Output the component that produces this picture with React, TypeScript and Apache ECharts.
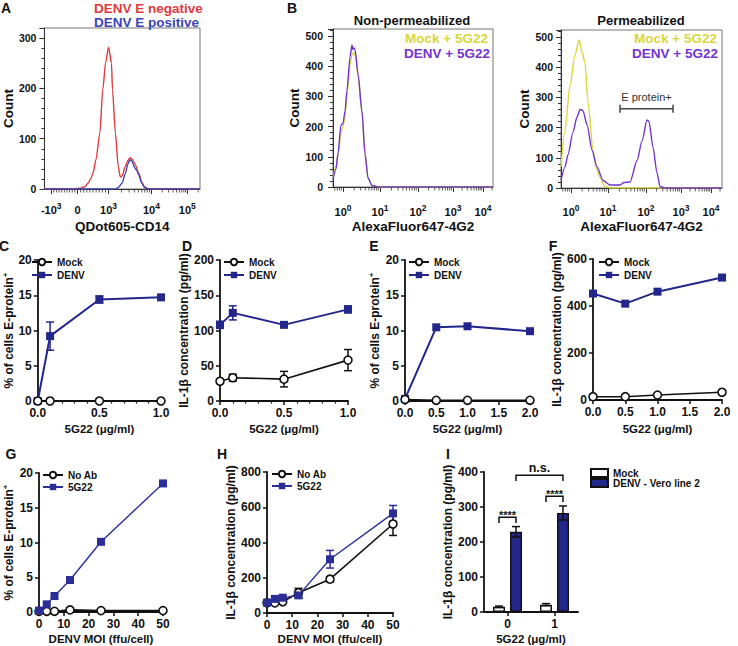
import React, { useEffect, useRef } from 'react';
import * as echarts from 'echarts';

const FONT = "'Liberation Sans', Arial, Helvetica, sans-serif";
const INK = '#111';
const NAVY = '#23268a';
const NAVY2 = '#2b2e96';
const RED = '#e0393e';
const BLUE = '#3a44b6';
const YELLOW = '#d8d73c';
const PURPLE = '#7433d0';

// ---------- Panel A : QDot605-CD14 histogram (display channel 0..160 vs count)
const aAxisLabels = ['-10^3', '0', '10^3', '10^4', '10^5'];
const aAxisPos = [7, 34, 66, 110, 147];
const aNegative = [[0, 0], [30, 0], [38, 2], [42, 5], [45, 12], [48, 22], [50, 32], [53, 58], [57, 111], [60, 197], [63, 252], [66, 282], [69, 250], [70, 197], [73, 111], [76, 44], [78, 24], [80, 26], [83, 44], [86, 57], [88, 62], [90, 60], [93, 50], [97, 32], [100, 14], [103, 4], [107, 0], [160, 0]];
const aPositive = [[0, 0], [73, 0], [76, 3], [80, 12], [83, 30], [86, 50], [88, 58], [90, 55], [93, 42], [95, 37], [97, 28], [100, 12], [103, 3], [107, 0], [160, 0]];

// ---------- Panel B : AlexaFluor647-4G2 histograms
const bAxisLabels = ['10^0', '10^1', '10^2', '10^3', '10^4'];
const bAxisPos = [10, 47, 85, 120, 150];
const bNonPermMock = [[0, 30], [3, 70], [5, 105], [8, 180], [10, 200], [12, 235], [14, 305], [17, 405], [19, 438], [21, 445], [23, 428], [25, 370], [29, 245], [32, 110], [35, 30], [39, 5], [45, 0], [160, 0]];
const bNonPermDenv = [[0, 25], [3, 60], [5, 110], [8, 205], [10, 210], [12, 250], [14, 320], [17, 430], [19, 470], [20, 455], [21, 460], [22, 455], [25, 375], [29, 250], [32, 110], [35, 30], [39, 5], [45, 0], [160, 0]];
const bPermMock = [[0, 70], [4, 190], [9, 340], [14, 440], [18, 490], [21, 450], [24, 415], [27, 285], [32, 125], [36, 60], [39, 35], [44, 5], [50, 0], [161, 0]];
const bPermDenv = [[0, 25], [4, 70], [7, 110], [12, 185], [16, 235], [19, 260], [21, 258], [22, 255], [26, 210], [31, 125], [36, 70], [42, 25], [49, 10], [59, 10], [63, 18], [69, 20], [76, 90], [81, 155], [86, 225], [88, 220], [92, 135], [96, 50], [99, 5], [104, 0], [161, 0]];
const bGate = [[59, 112, 262, 302]]; // x1, x2, y, label y
const bGateLabel = 'E protein+';

// ---------- Panel C
const cX = [0, 0.1, 0.5, 1.0];
const cMock = [0, 0, 0, 0];
const cDenv = [0, 9.2, 14.4, 14.7];
const cDenvErr = [0, 2.0, 0.5, 0.3];

// ---------- Panel D
const dX = [0, 0.1, 0.5, 1.0];
const dMock = [28, 33, 31, 58];
const dMockErr = [2, 5, 11, 15];
const dDenv = [108, 125, 108, 130];
const dDenvErr = [5, 10, 3, 5];

// ---------- Panel E
const eX = [0, 0.5, 1.0, 2.0];
const eMock = [0.2, 0.1, 0.1, 0.1];
const eDenv = [0.3, 10.45, 10.6, 9.9];

// ---------- Panel F
const fX = [0, 0.5, 1.0, 2.0];
const fMock = [14, 14, 21, 33];
const fDenv = [453, 410, 461, 521];

// ---------- Panel G
const gX = [0, 3.125, 6.25, 12.5, 25, 50];
const gNoAb = [0.1, 0.1, 0.1, 0.3, 0.2, 0.2];
const g5G22 = [0.2, 1.1, 2.3, 4.6, 10.1, 18.5];

// ---------- Panel H
const hX = [0, 3.125, 6.25, 12.5, 25, 50];
const hNoAb = [58, 57, 64, 115, 192, 505];
const hNoAbErr = [3, 4, 4, 25, 15, 65];
const h5G22 = [58, 80, 87, 100, 305, 565];
const h5G22Err = [3, 5, 5, 15, 50, 45];

// ---------- Panel I
const iCats = ['0', '1'];
const iMock = [15, 21];
const iMockErr = [2, 3];
const iDenv = [229, 283];
const iDenvErr = [15, 20];
const iBrackets = [[0, -1, 0, 1, 271, 254], [1, -1, 1, 1, 331, 314], [0, 1, 1, 1, 391, 374]];
const iBracketText = ['****', '****', 'n.s.'];

const RICH_SUP = {
  b: { fontFamily: FONT, fontWeight: 'bold', fontSize: 11, fill: INK, color: INK, lineHeight: 17 },
  s: { fontFamily: FONT, fontWeight: 'bold', fontSize: 8.5, fill: INK, color: INK, lineHeight: 8, verticalAlign: 'top' },
};

function supLabel(t: string) {
  const m = t.split('^');
  return m.length > 1 ? `{b|${m[0]}}{s|${m[1]}}` : `{b|${t}}`;
}

function logMinors(dec: number[], lo: number, hi: number) {
  const out: number[] = [];
  const all = [dec[0] - (dec[1] - dec[0]), ...dec, dec[dec.length - 1] + (dec[dec.length - 1] - dec[dec.length - 2])];
  for (let i = 0; i < all.length - 1; i++) {
    const w = all[i + 1] - all[i];
    for (let k = 2; k <= 9; k++) {
      const p = all[i] + Math.log10(k) * w;
      if (p > lo && p < hi) out.push(p);
    }
  }
  return out;
}

function linMinors(a: number, b: number, n: number) {
  const out: number[] = [];
  for (let k = 1; k < n; k++) out.push(a + ((b - a) * k) / n);
  return out;
}

const nameStyle = (size: number) => ({
  fontFamily: FONT, fontWeight: 'bold', fontSize: size, color: INK,
  rich: { s: { fontFamily: FONT, fontWeight: 'bold', fontSize: 8, color: INK, padding: [0, 0, 7, 0] } },
});
const labelStyle = (size: number) => ({ fontFamily: FONT, fontWeight: 'bold', fontSize: size, color: INK });

function flowX(gi: number, max: number, pos: number[], name: string, gap: number) {
  return {
    gridIndex: gi, type: 'value', min: 0, max, position: 'bottom',
    axisLine: { show: true, onZero: false, lineStyle: { color: '#333', width: 1 } },
    axisTick: { show: true, customValues: pos, length: 5, lineStyle: { color: '#333' } },
    axisLabel: { show: false },
    splitLine: { show: false },
    name, nameLocation: 'middle', nameGap: gap, nameTextStyle: nameStyle(13.5),
  };
}

function flowY(gi: number, max: number, margin: number, gap: number) {
  return {
    gridIndex: gi, type: 'value', min: 0, max, interval: 100,
    axisLine: { show: true, lineStyle: { color: '#333', width: 1 } },
    axisTick: { show: true, length: 5, lineStyle: { color: '#333' } },
    minorTick: { show: true, splitNumber: 5, length: 3, lineStyle: { color: '#333' } },
    axisLabel: { showMaxLabel: false, margin, ...labelStyle(10.5) },
    splitLine: { show: false }, minorSplitLine: { show: false },
    name: 'Count', nameLocation: 'middle', nameGap: gap, nameTextStyle: nameStyle(13.5),
  };
}

function lineX(gi: number, max: number, interval: number, minor: boolean, digits: number, name: string, gap: number) {
  return {
    gridIndex: gi, type: 'value', min: 0, max, interval,
    axisLine: { show: true, onZero: false, lineStyle: { color: INK, width: 1.8 } },
    axisTick: { show: true, length: 4, lineStyle: { color: INK, width: 1.5 } },
    minorTick: { show: minor, splitNumber: 5, length: 2.5, lineStyle: { color: INK, width: 1.2 } },
    axisLabel: { margin: 6, formatter: (v: number) => v.toFixed(digits), ...labelStyle(12) },
    splitLine: { show: false }, minorSplitLine: { show: false },
    name, nameLocation: 'middle', nameGap: gap, nameTextStyle: nameStyle(11.5),
  };
}

function lineY(gi: number, max: number, interval: number, name: string, gap: number) {
  return {
    gridIndex: gi, type: 'value', min: 0, max, interval,
    axisLine: { show: true, lineStyle: { color: INK, width: 1.8 } },
    axisTick: { show: true, length: 4, lineStyle: { color: INK, width: 1.5 } },
    axisLabel: { margin: 6, ...labelStyle(12) },
    splitLine: { show: false },
    name, nameLocation: 'middle', nameGap: gap, nameTextStyle: nameStyle(12),
  };
}

function flowLine(gi: number, name: string, data: number[][], color: string) {
  return {
    type: 'line', name, xAxisIndex: gi, yAxisIndex: gi, data, showSymbol: false, symbol: 'none',
    smooth: 0.25, smoothMonotone: 'x', lineStyle: { color, width: 1.4 }, itemStyle: { color }, silent: true, z: 3,
  };
}

function minorTicks(gi: number, xs: number[]) {
  return {
    type: 'scatter', xAxisIndex: gi, yAxisIndex: gi, data: xs.map((x) => [x, 0]), symbol: 'rect',
    symbolSize: [1, 3], symbolOffset: [0, 2], itemStyle: { color: '#333' }, silent: true, clip: false, z: 4,
  };
}

// Decade labels (with superscript exponents) of the flow axes, placed through the axis scale
function decadeLabels(gi: number, pos: number[], labels: string[], dist: number) {
  const items = pos.map((x, i) => [x, 0, i]).filter((d) => labels[d[2]].indexOf('^') >= 0);
  return {
    type: 'custom', xAxisIndex: gi, yAxisIndex: gi, silent: true, clip: false, z: 6,
    data: items, encode: { x: 0, y: 1 },
    renderItem: (_p: any, api: any) => {
      const c = api.coord([api.value(0), 0]);
      const t = labels[api.value(2)];
      return {
        type: 'text', x: c[0], y: c[1] + dist, z2: 10,
        style: {
          text: supLabel(t), rich: RICH_SUP, fill: INK,
          fontFamily: FONT, fontWeight: 'bold', fontSize: 11,
          align: 'center', verticalAlign: 'top', textAlign: 'center', textVerticalAlign: 'top',
        },
      };
    },
  };
}

function mockLine(gi: number, name: string, xs: number[], ys: number[]) {
  return {
    type: 'line', name, xAxisIndex: gi, yAxisIndex: gi, data: xs.map((x, i) => [x, ys[i]]),
    symbol: 'circle', symbolSize: 8, showSymbol: true, clip: false,
    lineStyle: { color: INK, width: 1.6 }, itemStyle: { color: '#fff', borderColor: INK, borderWidth: 1.6 }, z: 4,
  };
}

function denvLine(gi: number, name: string, xs: number[], ys: number[], color: string, width: number) {
  return {
    type: 'line', name, xAxisIndex: gi, yAxisIndex: gi, data: xs.map((x, i) => [x, ys[i]]),
    symbol: 'rect', symbolSize: 8, showSymbol: true, clip: false,
    lineStyle: { color, width }, itemStyle: { color }, z: 4,
  };
}

function errBars(gi: number, xs: number[], ys: number[], es: number[], color: string) {
  return {
    type: 'custom', xAxisIndex: gi, yAxisIndex: gi, silent: true, clip: false, z: 3,
    data: xs.map((x, i) => [x, ys[i], es[i]]).filter((d) => d[2] > 0),
    encode: { x: 0, y: 1 },
    renderItem: (_p: any, api: any) => {
      const x = api.value(0), y = api.value(1), e = api.value(2);
      const t = api.coord([x, y + e]);
      const b = api.coord([x, y - e]);
      const st = { stroke: color, lineWidth: 1.5, fill: null };
      return {
        type: 'group', children: [
          { type: 'line', shape: { x1: t[0], y1: t[1], x2: b[0], y2: b[1] }, style: st },
          { type: 'line', shape: { x1: t[0] - 4, y1: t[1], x2: t[0] + 4, y2: t[1] }, style: st },
          { type: 'line', shape: { x1: b[0] - 4, y1: b[1], x2: b[0] + 4, y2: b[1] }, style: st },
        ],
      };
    },
  };
}

function panelLegend(names: string[], left: number, top: number, gap: number, extra: any = {}) {
  return {
    show: true, orient: 'vertical', left, top, itemWidth: 20, itemHeight: 8, itemGap: gap, padding: 0,
    data: names, selectedMode: false,
    textStyle: { fontFamily: FONT, fontWeight: 'bold', fontSize: 10, color: INK },
    ...extra,
  };
}

function gText(id: string, text: string, x: number, y: number, size: number, color: string, align = 'center', weight = 'bold') {
  return {
    id, type: 'text', x, y, silent: true, z: 100,
    style: {
      text, fill: color, fontFamily: FONT, fontWeight: weight, fontSize: size,
      align, verticalAlign: 'middle', textAlign: align, textVerticalAlign: 'middle',
    },
  };
}

function buildOption() {
  const grids = [
    { left: 40, top: 28, width: 160, height: 161, show: true, borderColor: '#777', borderWidth: 1 },
    { left: 333, top: 29, width: 160, height: 158, show: true, borderColor: '#777', borderWidth: 1 },
    { left: 561, top: 30, width: 161, height: 158, show: true, borderColor: '#777', borderWidth: 1 },
    { left: 33, top: 260, width: 128, height: 141 },
    { left: 220, top: 260, width: 128, height: 141 },
    { left: 405, top: 260, width: 125, height: 141 },
    { left: 593, top: 259, width: 129, height: 141 },
    { left: 38, top: 473, width: 125, height: 139 },
    { left: 267, top: 472, width: 126, height: 141 },
    { left: 484, top: 472, width: 94, height: 140 },
  ];

  const ug = '5G22 (μg/ml)';
  const moi = 'DENV MOI (ffu/cell)';
  const pctName = '% of cells E-protein{s|+}';
  const ilName = 'IL-1β concentration (pg/ml)';

  const xAxes: any[] = [
    flowX(0, 160, aAxisPos, 'QDot605-CD14', 30),
    flowX(1, 160, bAxisPos, 'AlexaFluor647-4G2', 32),
    flowX(2, 161, bAxisPos, 'AlexaFluor647-4G2', 31),
    lineX(3, 1, 0.5, true, 1, ug, 22),
    lineX(4, 1, 0.5, true, 1, ug, 22),
    lineX(5, 2, 0.5, false, 1, ug, 22),
    lineX(6, 2, 0.5, false, 1, ug, 23),
    lineX(7, 50, 10, false, 0, moi, 21),
    lineX(8, 50, 10, false, 0, moi, 20),
    {
      gridIndex: 9, type: 'category', data: iCats,
      axisLine: { show: true, lineStyle: { color: INK, width: 1.8 } },
      axisTick: { show: true, alignWithLabel: true, interval: 0, length: 4, lineStyle: { color: INK, width: 1.5 } },
      axisLabel: { margin: 6, interval: 0, ...labelStyle(12) },
      name: ug, nameLocation: 'middle', nameGap: 21, nameTextStyle: nameStyle(11.5),
    },
  ];

  const yAxes: any[] = [
    flowY(0, 320, 8, 25),
    flowY(1, 523, 10, 27),
    flowY(2, 523, 8, 27),
    lineY(3, 20, 5, pctName, 21),
    lineY(4, 200, 50, ilName, 23),
    lineY(5, 20, 5, pctName, 23),
    lineY(6, 600, 200, ilName, 30),
    lineY(7, 20, 5, pctName, 23),
    lineY(8, 800, 200, ilName, 27),
    lineY(9, 400, 100, ilName, 26),
  ];

  const aMinors = [...linMinors(7, 34, 10), ...linMinors(34, 66, 10), ...logMinors([66, 110, 147], 66, 160)];
  const bMinors = logMinors(bAxisPos, 0, 160);

  const series: any[] = [
    // A
    flowLine(0, 'DENV E negative', aNegative, RED),
    flowLine(0, 'DENV E positive', aPositive, BLUE),
    minorTicks(0, aMinors),
    decadeLabels(0, aAxisPos, aAxisLabels, 12),
    // B
    flowLine(1, 'Mock + 5G22 (non-perm)', bNonPermMock, YELLOW),
    flowLine(1, 'DENV + 5G22 (non-perm)', bNonPermDenv, PURPLE),
    minorTicks(1, bMinors),
    decadeLabels(1, bAxisPos, bAxisLabels, 16),
    flowLine(2, 'Mock + 5G22 (perm)', bPermMock, YELLOW),
    flowLine(2, 'DENV + 5G22 (perm)', bPermDenv, PURPLE),
    minorTicks(2, bMinors),
    decadeLabels(2, bAxisPos, bAxisLabels, 15),
    {
      type: 'custom', xAxisIndex: 2, yAxisIndex: 2, silent: true, clip: false, z: 5,
      data: bGate, encode: { x: 0, y: 2 },
      renderItem: (_p: any, api: any) => {
        const a = api.coord([api.value(0), api.value(2)]);
        const b = api.coord([api.value(1), api.value(2)]);
        const ly = api.coord([api.value(0), api.value(3)])[1];
        const st = { stroke: '#444', lineWidth: 1.5, fill: null };
        return {
          type: 'group', children: [
            { type: 'line', shape: { x1: a[0], y1: a[1], x2: b[0], y2: b[1] }, style: st },
            { type: 'line', shape: { x1: a[0], y1: a[1] - 4, x2: a[0], y2: a[1] + 4 }, style: st },
            { type: 'line', shape: { x1: b[0], y1: b[1] - 4, x2: b[0], y2: b[1] + 4 }, style: st },
            {
              type: 'text', x: (a[0] + b[0]) / 2, y: ly,
              style: { text: bGateLabel, fill: '#333', fontFamily: FONT, fontSize: 11, align: 'center', verticalAlign: 'middle', textAlign: 'center', textVerticalAlign: 'middle' },
            },
          ],
        };
      },
    },
    // C
    errBars(3, cX, cDenv, cDenvErr, NAVY),
    denvLine(3, 'DENV', cX, cDenv, NAVY, 2),
    mockLine(3, 'Mock', cX, cMock),
    // D
    errBars(4, dX, dDenv, dDenvErr, NAVY),
    errBars(4, dX, dMock, dMockErr, INK),
    denvLine(4, 'DENV', dX, dDenv, NAVY, 2),
    mockLine(4, 'Mock', dX, dMock),
    // E
    denvLine(5, 'DENV', eX, eDenv, NAVY, 2),
    mockLine(5, 'Mock', eX, eMock),
    // F
    denvLine(6, 'DENV', fX, fDenv, NAVY, 2),
    mockLine(6, 'Mock', fX, fMock),
    // G
    mockLine(7, 'No Ab', gX, gNoAb),
    denvLine(7, '5G22', gX, g5G22, NAVY2, 1.4),
    // H
    errBars(8, hX, hNoAb, hNoAbErr, INK),
    errBars(8, hX, h5G22, h5G22Err, NAVY2),
    mockLine(8, 'No Ab', hX, hNoAb),
    denvLine(8, '5G22', hX, h5G22, NAVY2, 1.4),
    // I
    {
      type: 'bar', name: 'Mock (I)', xAxisIndex: 9, yAxisIndex: 9, data: iMock, barWidth: 12, barGap: '42%',
      itemStyle: { color: '#fff', borderColor: INK, borderWidth: 1.5 }, z: 2,
    },
    {
      type: 'bar', name: 'DENV - Vero line 2', xAxisIndex: 9, yAxisIndex: 9, data: iDenv, barWidth: 12, barGap: '42%',
      itemStyle: { color: NAVY, borderColor: INK, borderWidth: 1.5 }, z: 2,
    },
    {
      type: 'custom', xAxisIndex: 9, yAxisIndex: 9, silent: true, clip: false, z: 3,
      data: [
        ...iMock.map((v, i) => [i, -1, v, iMockErr[i]]),
        ...iDenv.map((v, i) => [i, 1, v, iDenvErr[i]]),
      ],
      encode: { x: 0, y: 2 },
      renderItem: (_p: any, api: any) => {
        const off = api.value(1) * 8.5;
        const t = api.coord([api.value(0), api.value(2) + api.value(3)]);
        const b = api.coord([api.value(0), api.value(2) - api.value(3)]);
        const x = t[0] + off;
        const st = { stroke: INK, lineWidth: 1.5, fill: null };
        return {
          type: 'group', children: [
            { type: 'line', shape: { x1: x, y1: t[1], x2: x, y2: b[1] }, style: st },
            { type: 'line', shape: { x1: x - 4, y1: t[1], x2: x + 4, y2: t[1] }, style: st },
            { type: 'line', shape: { x1: x - 4, y1: b[1], x2: x + 4, y2: b[1] }, style: st },
          ],
        };
      },
    },
    {
      type: 'custom', xAxisIndex: 9, yAxisIndex: 9, silent: true, clip: false, z: 4,
      data: iBrackets, encode: { x: 0, y: 4 },
      renderItem: (p: any, api: any) => {
        const half = 8.5;
        const p1 = api.coord([api.value(0), api.value(4)]);
        const p2 = api.coord([api.value(2), api.value(4)]);
        const leg = api.coord([api.value(0), api.value(5)])[1];
        const x1 = p1[0] + api.value(1) * half;
        const x2 = p2[0] + api.value(3) * half;
        const y = p1[1];
        const label = iBracketText[p.dataIndex];
        const stars = label.indexOf('*') >= 0;
        return {
          type: 'group', children: [
            { type: 'polyline', shape: { points: [[x1, leg], [x1, y], [x2, y], [x2, leg]] }, style: { stroke: INK, lineWidth: 1.5, fill: null } },
            {
              type: 'text', x: (x1 + x2) / 2, y: stars ? y + 3 : y - 1,
              style: {
                text: label, fill: INK, fontFamily: FONT, fontWeight: 'bold', fontSize: stars ? 11 : 12.5,
                align: 'center', verticalAlign: 'bottom', textAlign: 'center', textVerticalAlign: 'bottom',
              },
            },
          ],
        };
      },
    },
  ];

  const legends = [
    panelLegend(['Mock', 'DENV'], 31, 257, 3),
    panelLegend(['Mock', 'DENV'], 223, 257, 3),
    panelLegend(['Mock', 'DENV'], 408, 257, 3),
    panelLegend(['Mock', 'DENV'], 598, 257, 3),
    panelLegend(['No Ab', '5G22'], 42, 470, 2),
    panelLegend(['No Ab', '5G22'], 271, 469, 2),
    panelLegend(['Mock (I)', 'DENV - Vero line 2'], 590, 468, 0, {
      itemWidth: 17, itemHeight: 8, icon: 'rect',
      formatter: (n: string) => n.replace(' (I)', ''),
    }),
  ];

  const graphics = [
    gText('lA', 'A', 6, 8, 14, INK),
    gText('lB', 'B', 292, 8, 14, INK),
    gText('lC', 'C', 4, 246, 14, INK),
    gText('lD', 'D', 187, 246, 14, INK),
    gText('lE', 'E', 374, 246, 14, INK),
    gText('lF', 'F', 553, 246, 14, INK),
    gText('lG', 'G', 11, 454, 14, INK),
    gText('lH', 'H', 222, 454, 14, INK),
    gText('lI', 'I', 448, 454, 14, INK),
    gText('aNeg', 'DENV E negative', 94, 8, 13.5, RED, 'left'),
    gText('aPos', 'DENV E positive', 94, 22, 13.5, BLUE, 'left'),
    gText('tNP', 'Non-permeabilized', 412, 20, 13, INK),
    gText('tP', 'Permeabilized', 641, 20, 13, INK),
    gText('m1', 'Mock + 5G22', 488, 38, 13.5, YELLOW, 'right'),
    gText('d1', 'DENV + 5G22', 490, 53, 13.5, PURPLE, 'right'),
    gText('m2', 'Mock + 5G22', 717, 38, 13.5, YELLOW, 'right'),
    gText('d2', 'DENV + 5G22', 718, 53, 13.5, PURPLE, 'right'),
  ];

  return {
    animation: false,
    backgroundColor: '#fff',
    textStyle: { fontFamily: FONT },
    grid: grids,
    xAxis: xAxes,
    yAxis: yAxes,
    legend: legends,
    series,
    graphic: { elements: graphics },
  };
}

export default function App() {
  const ref = useRef<HTMLDivElement>(null);
  useEffect(() => {
    if (!ref.current) return;
    const chart = echarts.init(ref.current, undefined, { renderer: 'svg' });
    chart.setOption(buildOption() as any);
    // Plain (non-exponent) tick labels of panel A, positioned through the axis scale
    const extra: any[] = [];
    aAxisLabels.forEach((t, i) => {
      if (t.indexOf('^') >= 0) return;
      const px = chart.convertToPixel({ gridIndex: 0 } as any, [aAxisPos[i], 0]) as any;
      if (px && isFinite(px[0])) {
        extra.push(gText('aTick' + i, t, px[0], px[1] + 20.5, 11, INK));
      }
    });
    if (extra.length) chart.setOption({ graphic: { elements: extra } } as any);
    return () => chart.dispose();
  }, []);
  return (
    <div
      ref={ref}
      style={{ position: 'absolute', left: 0, top: 0, width: 738, height: 646, background: '#fff' }}
    />
  );
}
